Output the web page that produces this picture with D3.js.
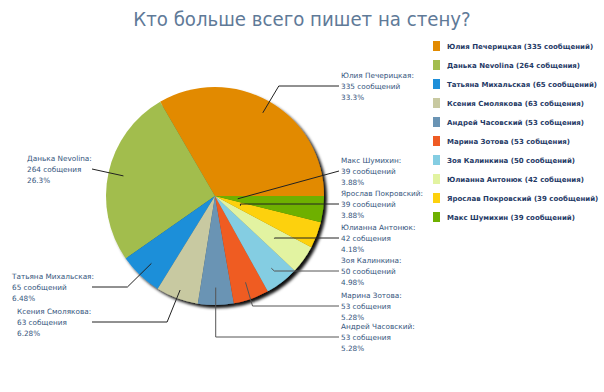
<!DOCTYPE html>
<html><head><meta charset="utf-8">
<script src="https://cdn.jsdelivr.net/npm/d3@7"></script>
<style>body{margin:0;background:#fff}svg{display:block}</style>
</head><body>
<svg id="c" width="604" height="392"></svg>
<script>
const names = ["Юлия Печерицкая","Данька Nevolina","Татьяна Михальская","Ксения Смолякова","Андрей Часовский","Марина Зотова","Зоя Калинкина","Юлианна Антонюк","Ярослав Покровский","Макс Шумихин"];
const values = [335,264,65,63,53,53,50,42,39,39];
const units = ["сообщений","собщения","сообщений","собщения","собщения","собщения","сообщений","собщения","сообщений","сообщений"];
const percents = ["33.3%","26.3%","6.48%","6.28%","5.28%","5.28%","4.98%","4.18%","3.88%","3.88%"];
const colors = ["#E28A00","#A2BD4E","#1E8FD9","#C8C9A1","#6A94B4","#EF5B24","#84CDE2","#E2F3A1","#FDD10D","#6EB000"];
const title = "Кто больше всего пишет на стену?";

// layout (label placement)
const labelSide = ["r","l","l","l","r","r","r","r","r","r"];
const labelX = [341,27,12,17,341,341,341,341,341,341];
const labelY = [86,169,287,322,337,306,271,238,204,171]; // centre of 2nd label line
const leaderR = [0.88,0.86,0.85,0.92,0.84,0.84,0.84,0.67,0.25,0.21];
const elbowDx = [16,null,-24,-13,0,7,3,0,0,null];

const svg = d3.select("#c");
const cx = 215, cy = 196, R = 109;
const defs = svg.append("defs");
const f = defs.append("filter").attr("id","sh").attr("x","-20%").attr("y","-20%").attr("width","150%").attr("height","150%");
f.append("feDropShadow").attr("dx",3).attr("dy",3).attr("stdDeviation",1.8).attr("flood-color","#000").attr("flood-opacity",0.95);

svg.append("text").attr("x",302).attr("y",26).attr("text-anchor","middle")
  .attr("font-family","'DejaVu Sans Condensed','DejaVu Sans',sans-serif").attr("font-size",20.2)
  .attr("fill","#5F7A98").text(title);

const data = names.map((n,i)=>({name:n,value:values[i],i}));
const pie = d3.pie().value(d=>d.value).sort(null).startAngle(Math.PI/2).endAngle(Math.PI/2-2*Math.PI);
const arcs = pie(data);
const arc = d3.arc().innerRadius(0).outerRadius(R);
const g = svg.append("g").attr("transform",`translate(${cx},${cy})`);
const pg = g.append("g").attr("filter","url(#sh)");
pg.selectAll("path").data(arcs).join("path").attr("d",arc).attr("fill",d=>colors[d.data.i]);

// leaders
arcs.forEach((a,i)=>{
  const mid = (a.startAngle+a.endAngle)/2;
  const r = R*leaderR[i];
  const sx = cx + Math.sin(mid)*r, sy = cy - Math.cos(mid)*r;
  const ex = labelSide[i]==="r" ? labelX[i]-2 : 92;
  const ey = labelY[i];
  let pts = [[sx,sy]];
  if (elbowDx[i]!==null) pts.push([sx+elbowDx[i], ey]);
  pts.push([ex,ey]);
  svg.append("path").attr("d",d3.line()(pts)).attr("fill","none")
    .attr("stroke", i>=4 && i<=6 ? "#555" : "#222").attr("stroke-width",1);
  const t = svg.append("text").attr("font-family","'DejaVu Sans',sans-serif").attr("font-size",7.3).attr("fill","#35557D");
  const lines = [names[i]+":", values[i]+" "+units[i], percents[i]];
  lines.forEach((s,k)=>{
    t.append("tspan").attr("x",labelX[i]).attr("y",labelY[i]+3+(k-1)*10.7).text(s);
  });
});

// legend
const lg = svg.append("g");
names.forEach((n,i)=>{
  const y = 46 + i*19;
  lg.append("rect").attr("x",433).attr("y",y-5).attr("width",7).attr("height",10).attr("fill",colors[i]);
  lg.append("text").attr("x",447).attr("y",y+3).attr("font-family","'DejaVu Sans',sans-serif")
    .attr("font-weight","bold").attr("font-size",7).attr("fill","#1F3A66")
    .text(`${n} (${values[i]} ${units[i]})`);
});
</script>
</body></html>
